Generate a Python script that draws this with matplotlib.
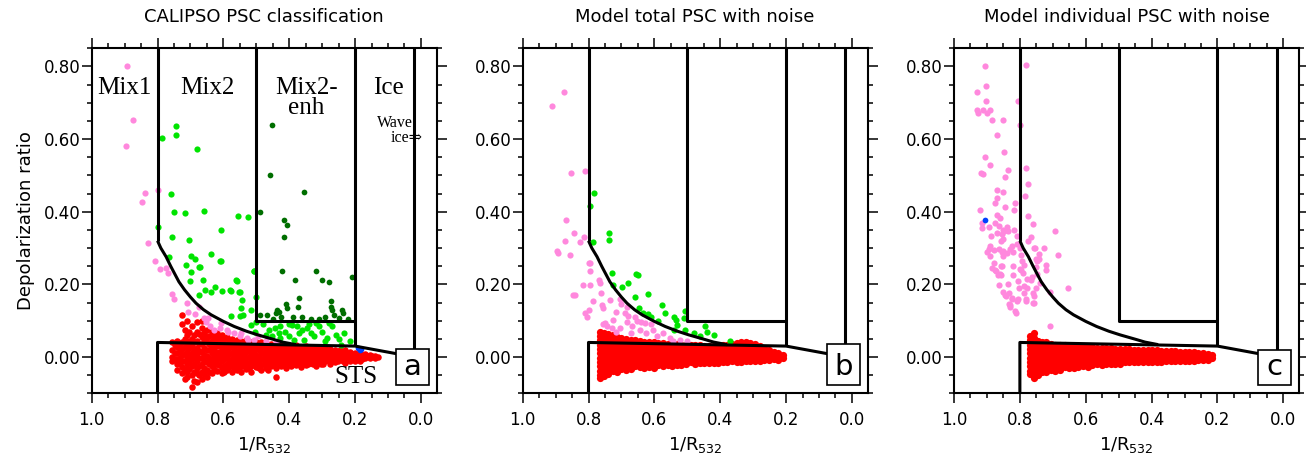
import numpy as np
import matplotlib
matplotlib.use("Agg")
import matplotlib.pyplot as plt
from matplotlib.patches import Rectangle

# ---- data (1/R532, depolarization ratio) ----
titles = ["CALIPSO PSC classification", "Model total PSC with noise",
          "Model individual PSC with noise"]
panel_letters = ["a", "b", "c"]
x_ticks = [1.0, 0.8, 0.6, 0.4, 0.2, 0.0]
y_ticks = [0.0, 0.2, 0.4, 0.6, 0.8]

# classification boundaries
curve_x = [0.80, 0.79, 0.774, 0.76, 0.749, 0.735, 0.718, 0.70, 0.683, 0.66, 0.637, 0.60,
           0.567, 0.53, 0.496, 0.446, 0.42, 0.38]
curve_y = [0.32, 0.30, 0.276, 0.25, 0.231, 0.207, 0.185, 0.165, 0.148, 0.13, 0.116, 0.098,
           0.084, 0.071, 0.061, 0.048, 0.041, 0.034]
sts_x = [0.80, 0.80, 0.20, 0.02]
sts_y = [-0.10, 0.04, 0.03, 0.0]
mix1_x = [0.80, 0.80]
mix1_y = [0.85, 0.32]
enh_x = [0.50, 0.50, 0.20]
enh_y = [0.85, 0.10, 0.10]
ice_x = [0.20, 0.20]
ice_y = [0.85, 0.03]
wave_x = [0.02, 0.02]
wave_y = [0.85, 0.0]

# panel a: CALIPSO
pink_a = [(0.893, 0.80), (0.876, 0.652), (0.896, 0.58), (0.839, 0.451), (0.846, 0.427),
          (0.80, 0.459), (0.830, 0.313), (0.809, 0.264), (0.794, 0.243), (0.774, 0.246),
          (0.767, 0.232), (0.756, 0.174), (0.749, 0.159), (0.710, 0.148), (0.706, 0.123),
          (0.685, 0.119), (0.675, 0.137), (0.660, 0.107), (0.652, 0.095), (0.647, 0.106),
          (0.642, 0.084), (0.630, 0.075), (0.606, 0.093), (0.609, 0.079), (0.589, 0.075),
          (0.586, 0.068), (0.569, 0.066), (0.549, 0.057), (0.545, 0.066), (0.528, 0.052),
          (0.525, 0.047), (0.508, 0.048), (0.495, 0.057), (0.47, 0.045), (0.44, 0.04)]
green_a = [(0.744, 0.635), (0.786, 0.604), (0.743, 0.610), (0.679, 0.574), (0.759, 0.448),
           (0.75, 0.40), (0.717, 0.396), (0.658, 0.401), (0.555, 0.389), (0.525, 0.385),
           (0.80, 0.357), (0.756, 0.331), (0.705, 0.322), (0.606, 0.349), (0.764, 0.276),
           (0.698, 0.279), (0.685, 0.269), (0.713, 0.254), (0.672, 0.249), (0.698, 0.235),
           (0.637, 0.284), (0.609, 0.265), (0.507, 0.238), (0.702, 0.208), (0.662, 0.212),
           (0.675, 0.171), (0.657, 0.185), (0.637, 0.180), (0.625, 0.194), (0.604, 0.183),
           (0.576, 0.183), (0.561, 0.212), (0.553, 0.180), (0.543, 0.157), (0.545, 0.135),
           (0.515, 0.130), (0.501, 0.165), (0.576, 0.112), (0.551, 0.112), (0.54, 0.115),
           (0.517, 0.089), (0.505, 0.070), (0.50, 0.095), (0.607, 0.265), (0.579, 0.185),
           (0.559, 0.210), (0.551, 0.178), (0.508, 0.238), (0.674, 0.249),
           (0.462, 0.075), (0.442, 0.080), (0.427, 0.084), (0.412, 0.070), (0.402, 0.057),
           (0.391, 0.089), (0.376, 0.084), (0.361, 0.075), (0.346, 0.080), (0.335, 0.066),
           (0.325, 0.057), (0.310, 0.084), (0.30, 0.070), (0.285, 0.052), (0.269, 0.084),
           (0.259, 0.061), (0.244, 0.034), (0.214, 0.043), (0.386, 0.048), (0.427, 0.052),
           (0.356, 0.048), (0.452, 0.057), (0.234, 0.066), (0.320, 0.093), (0.280, 0.093),
           (0.48, 0.09), (0.47, 0.06), (0.43, 0.065), (0.37, 0.065), (0.29, 0.045),
           (0.25, 0.05), (0.34, 0.09), (0.40, 0.09)]
dgreen_a = [(0.452, 0.639), (0.457, 0.502), (0.356, 0.455), (0.488, 0.398), (0.415, 0.376),
            (0.408, 0.363), (0.415, 0.330), (0.421, 0.238), (0.320, 0.238), (0.383, 0.212),
            (0.300, 0.212), (0.280, 0.206), (0.209, 0.221), (0.371, 0.162), (0.373, 0.137),
            (0.272, 0.155), (0.272, 0.137), (0.270, 0.128), (0.406, 0.135), (0.410, 0.145),
            (0.437, 0.130), (0.430, 0.124), (0.488, 0.116), (0.467, 0.116), (0.390, 0.110),
            (0.335, 0.104), (0.290, 0.111), (0.264, 0.116), (0.249, 0.107), (0.239, 0.128),
            (0.237, 0.120), (0.425, 0.110), (0.44, 0.12), (0.36, 0.11), (0.31, 0.105),
            (0.22, 0.105), (0.45, 0.105)]
blue_a = [(0.19, 0.024), (0.183, 0.022), (0.186, 0.018)]
red_a_x = [0.755, 0.74, 0.725, 0.71, 0.695, 0.68, 0.665, 0.65, 0.635, 0.62, 0.605, 0.59,
           0.575, 0.56, 0.545, 0.53, 0.515, 0.50, 0.485, 0.47, 0.455, 0.44, 0.425, 0.41,
           0.395, 0.38, 0.365, 0.35, 0.335, 0.32, 0.305, 0.29, 0.275, 0.26, 0.245, 0.23,
           0.215, 0.20, 0.185, 0.17, 0.155, 0.14, 0.13]
red_a_y = [[0.04, 0.02, 0.0, -0.012],
           [0.045, 0.028, 0.01, -0.005, -0.02, -0.035],
           [0.116, 0.09, 0.04, 0.022, 0.005, -0.01, -0.028, -0.045],
           [0.10, 0.06, 0.035, 0.015, -0.002, -0.02, -0.04, -0.055],
           [0.085, 0.05, 0.03, 0.012, -0.006, -0.025, -0.05, -0.082],
           [0.095, 0.07, 0.045, 0.025, 0.008, -0.012, -0.03, -0.045, -0.07],
           [0.10, 0.08, 0.055, 0.035, 0.015, -0.003, -0.02, -0.04, -0.06],
           [0.075, 0.055, 0.04, 0.02, 0.002, -0.015, -0.035, -0.055],
           [0.07, 0.045, 0.028, 0.01, -0.008, -0.025, -0.045],
           [0.065, 0.05, 0.03, 0.012, -0.005, -0.02, -0.038],
           [0.06, 0.04, 0.022, 0.005, -0.012, -0.03, -0.045],
           [0.055, 0.035, 0.018, 0.0, -0.018, -0.035],
           [0.05, 0.03, 0.012, -0.005, -0.022, -0.04],
           [0.048, 0.032, 0.015, -0.002, -0.02, -0.035],
           [0.045, 0.028, 0.01, -0.008, -0.025, -0.04],
           [0.048, 0.03, 0.015, -0.002, -0.018, -0.034],
           [0.042, 0.025, 0.008, -0.01, -0.025, -0.04],
           [0.04, 0.024, 0.006, -0.012, -0.028],
           [0.042, 0.026, 0.01, -0.006, -0.022, -0.035],
           [0.038, 0.02, 0.004, -0.012, -0.03],
           [0.036, 0.022, 0.006, -0.01, -0.025],
           [0.035, 0.018, 0.002, -0.014, -0.03, -0.055],
           [0.034, 0.02, 0.005, -0.01, -0.024],
           [0.032, 0.016, 0.0, -0.015, -0.03],
           [0.03, 0.015, 0.002, -0.012, -0.025],
           [0.032, 0.018, 0.004, -0.01, -0.022],
           [0.028, 0.014, 0.0, -0.014, -0.028],
           [0.03, 0.016, 0.002, -0.01, -0.022],
           [0.026, 0.012, -0.002, -0.016],
           [0.028, 0.015, 0.002, -0.012, -0.024],
           [0.025, 0.01, -0.004, -0.018],
           [0.024, 0.012, 0.0, -0.012],
           [0.022, 0.008, -0.005, -0.018],
           [0.02, 0.008, -0.004, -0.015],
           [0.018, 0.006, -0.006],
           [0.018, 0.005, -0.008, -0.016],
           [0.014, 0.002, -0.01],
           [0.012, 0.0, -0.01],
           [0.01, -0.002, -0.01],
           [0.008, -0.004],
           [0.006, -0.003],
           [0.003, -0.004],
           [0.0]]
red_a2_x = [0.748, 0.733, 0.718, 0.703, 0.688, 0.673, 0.658, 0.643, 0.628, 0.613, 0.598,
            0.583, 0.568, 0.553, 0.538, 0.523, 0.508, 0.493, 0.478, 0.463, 0.448, 0.433,
            0.418, 0.403, 0.388, 0.373, 0.358, 0.343, 0.328, 0.313, 0.298, 0.283, 0.268,
            0.253, 0.238, 0.223, 0.208, 0.193, 0.178, 0.163, 0.148]
red_a2_y = [[0.032, 0.012, -0.006],
            [0.036, 0.016, -0.002, -0.018],
            [0.075, 0.05, 0.028, 0.008, -0.012, -0.032, -0.06],
            [0.07, 0.045, 0.024, 0.004, -0.014, -0.034],
            [0.06, 0.04, 0.02, 0.0, -0.018, -0.04, -0.065],
            [0.062, 0.036, 0.016, -0.004, -0.024, -0.05],
            [0.065, 0.045, 0.026, 0.006, -0.012, -0.03, -0.048],
            [0.058, 0.035, 0.018, -0.002, -0.02, -0.04],
            [0.055, 0.038, 0.02, 0.002, -0.016, -0.034],
            [0.052, 0.032, 0.014, -0.004, -0.022],
            [0.05, 0.03, 0.012, -0.006, -0.024, -0.04],
            [0.045, 0.026, 0.008, -0.01, -0.028],
            [0.04, 0.022, 0.005, -0.012, -0.03],
            [0.038, 0.02, 0.002, -0.015, -0.032],
            [0.04, 0.022, 0.004, -0.012, -0.026],
            [0.036, 0.018, 0.0, -0.016, -0.03],
            [0.034, 0.016, -0.002, -0.02],
            [0.035, 0.018, 0.0, -0.016, -0.03],
            [0.03, 0.012, -0.004, -0.02],
            [0.03, 0.014, -0.002, -0.018, -0.035],
            [0.028, 0.01, -0.006, -0.022],
            [0.026, 0.012, -0.004, -0.018],
            [0.025, 0.008, -0.008, -0.022],
            [0.024, 0.008, -0.006, -0.02],
            [0.024, 0.01, -0.004, -0.018],
            [0.022, 0.008, -0.006, -0.02],
            [0.022, 0.008, -0.006, -0.016],
            [0.02, 0.006, -0.008, -0.02],
            [0.02, 0.008, -0.006, -0.018],
            [0.018, 0.004, -0.01],
            [0.018, 0.005, -0.008, -0.02],
            [0.016, 0.004, -0.008],
            [0.015, 0.002, -0.01],
            [0.014, 0.0, -0.01],
            [0.012, 0.0, -0.012],
            [0.01, -0.002],
            [0.008, -0.004],
            [0.006, -0.005],
            [0.004, -0.006],
            [0.004],
            [0.002]]

# panel b: model total
pink_b = [(0.911, 0.691), (0.874, 0.730), (0.854, 0.506), (0.812, 0.512), (0.869, 0.377),
          (0.844, 0.342), (0.870, 0.320), (0.827, 0.316), (0.813, 0.330), (0.897, 0.292),
          (0.894, 0.286), (0.857, 0.281), (0.800, 0.260), (0.796, 0.260), (0.794, 0.236),
          (0.768, 0.212), (0.765, 0.204), (0.794, 0.199), (0.818, 0.197), (0.846, 0.171),
          (0.841, 0.170), (0.762, 0.176), (0.786, 0.153), (0.760, 0.144), (0.757, 0.135),
          (0.736, 0.157), (0.704, 0.160), (0.70, 0.145), (0.810, 0.121), (0.806, 0.110),
          (0.800, 0.130), (0.750, 0.093), (0.725, 0.102), (0.744, 0.085), (0.755, 0.090),
          (0.715, 0.070), (0.705, 0.080), (0.684, 0.139), (0.715, 0.125), (0.680, 0.112),
          (0.684, 0.095), (0.669, 0.084), (0.654, 0.098), (0.644, 0.075), (0.629, 0.093),
          (0.624, 0.066), (0.604, 0.075), (0.593, 0.057), (0.573, 0.066), (0.553, 0.052),
          (0.543, 0.043), (0.523, 0.048), (0.502, 0.043), (0.66, 0.11), (0.64, 0.095),
          (0.69, 0.12), (0.73, 0.08), (0.67, 0.065), (0.61, 0.09)]
green_b = [(0.784, 0.451), (0.794, 0.416), (0.786, 0.316), (0.738, 0.342), (0.739, 0.322),
           (0.728, 0.231), (0.725, 0.199), (0.698, 0.192), (0.681, 0.203), (0.655, 0.229),
           (0.650, 0.226), (0.658, 0.166), (0.618, 0.174), (0.647, 0.135), (0.636, 0.120),
           (0.620, 0.118), (0.578, 0.143), (0.567, 0.121), (0.540, 0.110), (0.535, 0.102),
           (0.532, 0.089), (0.508, 0.127), (0.510, 0.108), (0.507, 0.075), (0.540, 0.075),
           (0.446, 0.084), (0.440, 0.070), (0.420, 0.061), (0.460, 0.057), (0.370, 0.043),
           (0.610, 0.110), (0.59, 0.10), (0.48, 0.065)]
red_b_x = [0.765, 0.752, 0.74, 0.727, 0.714, 0.70, 0.686, 0.672, 0.658, 0.644, 0.63, 0.616,
           0.602, 0.588, 0.574, 0.56, 0.546, 0.532, 0.518, 0.504, 0.49, 0.476, 0.462, 0.448,
           0.434, 0.42, 0.406, 0.392, 0.378, 0.364, 0.35, 0.336, 0.322, 0.308, 0.294, 0.28,
           0.266, 0.252, 0.238, 0.224, 0.21]
red_b_y = [[0.07, 0.058, 0.046, 0.034, 0.022, 0.01, -0.002, -0.014, -0.026, -0.038, -0.05, -0.058],
           [0.066, 0.052, 0.04, 0.028, 0.016, 0.004, -0.008, -0.02, -0.032, -0.044, -0.052],
           [0.062, 0.05, 0.037, 0.025, 0.013, 0.001, -0.011, -0.023, -0.035, -0.046],
           [0.06, 0.046, 0.034, 0.022, 0.01, -0.002, -0.014, -0.026, -0.038],
           [0.056, 0.044, 0.032, 0.02, 0.008, -0.004, -0.016, -0.028, -0.04],
           [0.052, 0.04, 0.028, 0.016, 0.004, -0.008, -0.02, -0.032],
           [0.05, 0.038, 0.026, 0.014, 0.002, -0.01, -0.022, -0.036],
           [0.048, 0.036, 0.024, 0.012, 0.0, -0.012, -0.024, -0.034],
           [0.046, 0.034, 0.022, 0.01, -0.002, -0.014, -0.026],
           [0.045, 0.033, 0.021, 0.009, -0.003, -0.015, -0.028],
           [0.042, 0.03, 0.018, 0.006, -0.006, -0.018, -0.03],
           [0.04, 0.028, 0.016, 0.004, -0.008, -0.02, -0.028],
           [0.04, 0.028, 0.016, 0.004, -0.008, -0.02, -0.03],
           [0.038, 0.026, 0.014, 0.002, -0.01, -0.022],
           [0.038, 0.026, 0.014, 0.002, -0.01, -0.024],
           [0.037, 0.025, 0.013, 0.001, -0.011, -0.023],
           [0.036, 0.024, 0.012, 0.0, -0.012, -0.024],
           [0.035, 0.023, 0.011, -0.001, -0.013, -0.022],
           [0.034, 0.022, 0.01, -0.002, -0.014, -0.022],
           [0.034, 0.022, 0.01, -0.002, -0.014, -0.02],
           [0.033, 0.021, 0.009, -0.003, -0.015],
           [0.032, 0.02, 0.008, -0.004, -0.016, -0.02],
           [0.032, 0.02, 0.008, -0.004, -0.016],
           [0.031, 0.019, 0.007, -0.005, -0.017],
           [0.03, 0.018, 0.006, -0.006, -0.017],
           [0.03, 0.018, 0.006, -0.006, -0.016],
           [0.03, 0.018, 0.006, -0.006, -0.016],
           [0.032, 0.02, 0.008, -0.004, -0.015],
           [0.034, 0.022, 0.01, -0.002, -0.014],
           [0.036, 0.024, 0.012, 0.0, -0.012],
           [0.038, 0.026, 0.014, 0.002, -0.01, -0.014],
           [0.04, 0.028, 0.016, 0.004, -0.008, -0.013],
           [0.04, 0.028, 0.016, 0.004, -0.008, -0.012],
           [0.038, 0.026, 0.014, 0.002, -0.01],
           [0.035, 0.024, 0.012, 0.0, -0.011],
           [0.03, 0.019, 0.008, -0.003, -0.011],
           [0.024, 0.013, 0.002, -0.009],
           [0.02, 0.01, 0.0, -0.009],
           [0.015, 0.005, -0.005],
           [0.01, 0.0, -0.008],
           [0.005, -0.004]]

# panel c: model individual
pink_c = [(0.906, 0.80), (0.781, 0.805), (0.929, 0.73), (0.903, 0.746), (0.903, 0.705),
          (0.805, 0.705), (0.931, 0.679), (0.928, 0.672), (0.911, 0.679), (0.891, 0.679),
          (0.901, 0.672), (0.885, 0.652), (0.852, 0.652), (0.801, 0.638), (0.869, 0.61),
          (0.906, 0.551), (0.847, 0.564), (0.918, 0.507), (0.911, 0.503), (0.891, 0.53),
          (0.835, 0.515), (0.846, 0.495), (0.782, 0.52), (0.776, 0.475), (0.785, 0.444),
          (0.871, 0.46), (0.852, 0.455), (0.871, 0.438), (0.875, 0.423), (0.815, 0.424),
          (0.846, 0.413), (0.921, 0.405), (0.819, 0.405), (0.774, 0.388), (0.871, 0.39),
          (0.915, 0.368), (0.915, 0.354), (0.895, 0.357), (0.86, 0.382), (0.875, 0.368),
          (0.869, 0.342), (0.847, 0.348), (0.858, 0.319), (0.852, 0.325), (0.888, 0.334),
          (0.89, 0.306), (0.895, 0.296), (0.90, 0.29), (0.89, 0.278), (0.85, 0.292),
          (0.85, 0.278), (0.83, 0.297), (0.822, 0.29), (0.81, 0.334), (0.80, 0.30),
          (0.776, 0.318), (0.76, 0.365), (0.767, 0.33), (0.755, 0.30), (0.726, 0.301),
          (0.752, 0.27), (0.743, 0.27), (0.795, 0.265), (0.692, 0.346), (0.685, 0.281),
          (0.797, 0.24), (0.79, 0.231), (0.82, 0.25), (0.855, 0.25), (0.858, 0.225),
          (0.875, 0.24), (0.867, 0.226), (0.88, 0.26), (0.721, 0.24), (0.75, 0.247),
          (0.765, 0.212), (0.75, 0.19), (0.778, 0.19), (0.804, 0.19), (0.862, 0.198),
          (0.835, 0.2), (0.85, 0.18), (0.846, 0.171), (0.823, 0.162), (0.786, 0.176),
          (0.76, 0.177), (0.757, 0.168), (0.709, 0.18), (0.654, 0.19), (0.805, 0.16),
          (0.781, 0.16), (0.758, 0.149), (0.833, 0.145), (0.829, 0.139), (0.815, 0.126),
          (0.812, 0.121), (0.71, 0.086), (0.862, 0.362), (0.851, 0.349), (0.838, 0.357),
          (0.853, 0.338), (0.836, 0.346), (0.818, 0.349), (0.879, 0.295), (0.863, 0.296),
          (0.853, 0.288), (0.838, 0.285), (0.823, 0.306), (0.808, 0.311), (0.798, 0.28),
          (0.788, 0.252), (0.80, 0.242), (0.757, 0.3), (0.742, 0.284), (0.747, 0.265),
          (0.722, 0.254), (0.886, 0.245), (0.874, 0.237), (0.861, 0.228), (0.858, 0.25),
          (0.82, 0.225), (0.833, 0.175), (0.843, 0.168), (0.805, 0.208), (0.788, 0.195),
          (0.778, 0.214), (0.762, 0.22), (0.747, 0.228), (0.739, 0.205), (0.823, 0.16),
          (0.808, 0.154), (0.782, 0.154), (0.759, 0.148), (0.83, 0.144)]
blue_c = [(0.906, 0.377)]
red_c_x = [0.768, 0.758, 0.746, 0.733, 0.72, 0.706, 0.692, 0.678, 0.664, 0.65, 0.636, 0.622,
           0.608, 0.594, 0.58, 0.566, 0.552, 0.538, 0.524, 0.51, 0.496, 0.482, 0.468, 0.454,
           0.44, 0.426, 0.412, 0.398, 0.384, 0.37, 0.356, 0.342, 0.328, 0.314, 0.3, 0.286,
           0.272, 0.258, 0.244, 0.23, 0.216]
red_c_y = [[0.058, 0.046, 0.034, 0.022, 0.01, -0.002, -0.014, -0.026, -0.038, -0.048],
           [0.066, 0.052, 0.04, 0.028, 0.016, 0.004, -0.008, -0.02, -0.032, -0.044, -0.058],
           [0.044, 0.032, 0.02, 0.008, -0.004, -0.016, -0.028, -0.04, -0.05],
           [0.042, 0.03, 0.018, 0.006, -0.006, -0.018, -0.03, -0.042],
           [0.04, 0.028, 0.016, 0.004, -0.008, -0.02, -0.032, -0.04],
           [0.036, 0.024, 0.012, 0.0, -0.012, -0.024, -0.036],
           [0.034, 0.022, 0.01, -0.002, -0.014, -0.026, -0.038],
           [0.033, 0.021, 0.009, -0.003, -0.015, -0.027, -0.036],
           [0.032, 0.02, 0.008, -0.004, -0.016, -0.028],
           [0.03, 0.018, 0.006, -0.006, -0.018, -0.03],
           [0.03, 0.018, 0.006, -0.006, -0.018, -0.03],
           [0.029, 0.017, 0.005, -0.007, -0.019, -0.028],
           [0.028, 0.016, 0.004, -0.008, -0.02, -0.026],
           [0.028, 0.016, 0.004, -0.008, -0.02, -0.027],
           [0.027, 0.015, 0.003, -0.009, -0.021],
           [0.026, 0.014, 0.002, -0.01, -0.02],
           [0.025, 0.013, 0.001, -0.011, -0.021],
           [0.025, 0.013, 0.001, -0.011, -0.02],
           [0.024, 0.012, 0.0, -0.012, -0.019],
           [0.023, 0.011, -0.001, -0.013, -0.018],
           [0.022, 0.01, -0.002, -0.014, -0.018],
           [0.021, 0.01, -0.002, -0.013],
           [0.021, 0.01, -0.002, -0.014],
           [0.02, 0.009, -0.003, -0.013],
           [0.02, 0.008, -0.004, -0.014],
           [0.019, 0.008, -0.003, -0.014],
           [0.019, 0.007, -0.004, -0.014],
           [0.018, 0.007, -0.004, -0.015],
           [0.018, 0.006, -0.005, -0.013],
           [0.017, 0.006, -0.005, -0.013],
           [0.017, 0.006, -0.005, -0.012],
           [0.016, 0.005, -0.006, -0.012],
           [0.016, 0.005, -0.006, -0.012],
           [0.015, 0.004, -0.006, -0.012],
           [0.015, 0.004, -0.006, -0.011],
           [0.014, 0.003, -0.007, -0.011],
           [0.013, 0.003, -0.007, -0.01],
           [0.012, 0.002, -0.008],
           [0.011, 0.001, -0.008],
           [0.009, 0.0, -0.007],
           [0.006, -0.004]]

PINK = "#ff88dd"
GREEN = "#00e400"
DGREEN = "#006e00"
RED = "#ff0000"
BLUE = "#0040ff"
SANS = "DejaVu Sans"
SERIF = ["Liberation Serif", "DejaVu Serif"]


def columns(xs, ys):
    px, py = [], []
    for x, col in zip(xs, ys):
        for y in col:
            px.append(x)
            py.append(y)
    return px, py


def dots(ax, pts, color, s=20):
    if not pts:
        return
    arr = np.array(pts)
    ax.scatter(arr[:, 0], arr[:, 1], s=s, c=color, linewidths=0, zorder=2)


def boundaries(ax):
    kw = dict(color="black", lw=2.2, zorder=4, solid_capstyle="butt")
    ax.plot(curve_x, curve_y, **kw)
    ax.plot(sts_x, sts_y, **kw)
    ax.plot(mix1_x, mix1_y, **kw)
    ax.plot(enh_x, enh_y, **kw)
    ax.plot(ice_x, ice_y, **kw)
    ax.plot(wave_x, wave_y, **kw)


def style(ax, title, letter, box_top, show_ylabel):
    ax.set_xlim(1.0, -0.048)
    ax.set_ylim(-0.1, 0.85)
    ax.set_xticks(x_ticks)
    ax.set_xticklabels(["{:.1f}".format(v) for v in x_ticks], fontsize=12, family=SANS)
    ax.set_yticks(y_ticks)
    ax.set_yticklabels(["{:.2f}".format(v) for v in y_ticks], fontsize=12, family=SANS)
    ax.set_xticks(np.arange(1.0, -0.05, -0.05), minor=True)
    ax.set_yticks(np.arange(-0.1, 0.851, 0.05), minor=True)
    ax.tick_params(which="both", direction="out", top=True, right=True, width=1.1)
    ax.tick_params(which="major", length=7)
    ax.tick_params(which="minor", length=3.6)
    ax.tick_params(axis="y", pad=1)
    ax.tick_params(axis="x", pad=6)
    for sp in ax.spines.values():
        sp.set_linewidth(1.5)
    ax.set_xlabel("1/R$_{\\mathregular{532}}$", fontsize=13, family=SANS, labelpad=4)
    if show_ylabel:
        ax.set_ylabel("Depolarization ratio", fontsize=13, family=SANS, labelpad=6)
    ax.text(0.5, 1.09, title, transform=ax.transAxes, ha="center", va="center",
            fontsize=13, family=SANS)
    ax.add_patch(Rectangle((0.882, 0.024), 0.095, box_top - 0.024, transform=ax.transAxes,
                           facecolor="white", edgecolor="black", lw=1.2, zorder=6))
    ax.text(0.929, 0.052, letter, transform=ax.transAxes, ha="center", va="baseline",
            fontsize=21, family=SANS, zorder=7)


fig = plt.figure(figsize=(13.06, 4.57), dpi=100)
lefts = [0.0702, 0.4002, 0.7305]
axes = [fig.add_axes([l, 0.1394, 0.2642, 0.7549]) for l in lefts]

# panel a
ax = axes[0]
rx, ry = columns(red_a_x + red_a2_x, red_a_y + red_a2_y)
ax.scatter(rx, ry, s=22, c=RED, linewidths=0, zorder=2)
dots(ax, pink_a, PINK)
dots(ax, green_a, GREEN)
dots(ax, dgreen_a, DGREEN, s=17)
dots(ax, blue_a, BLUE, s=17)
boundaries(ax)
for label, x in [("Mix1", 0.90), ("Mix2", 0.648), ("Mix2-", 0.348), ("Ice", 0.10)]:
    ax.text(x, 0.725, label, ha="center", va="baseline", fontsize=18, family=SERIF, zorder=5)
ax.text(0.348, 0.67, "enh", ha="center", va="baseline", fontsize=18, family=SERIF, zorder=5)
ax.text(0.026, 0.633, "Wave", ha="right", va="baseline", fontsize=11.5, family=SERIF, zorder=5)
ax.text(-0.005, 0.592, "ice\u21d2", ha="right", va="baseline", fontsize=11.5, family=SERIF,
        zorder=5)
ax.text(0.198, -0.073, "STS", ha="center", va="baseline", fontsize=18, family=SERIF, zorder=5)
style(ax, titles[0], panel_letters[0], 0.128, True)

# panel b
ax = axes[1]
rx, ry = columns(red_b_x, red_b_y)
ax.scatter(rx, ry, s=27, c=RED, linewidths=0, zorder=2)
dots(ax, pink_b, PINK)
dots(ax, green_b, GREEN)
boundaries(ax)
style(ax, titles[1], panel_letters[1], 0.142, False)

# panel c
ax = axes[2]
rx, ry = columns(red_c_x, red_c_y)
ax.scatter(rx, ry, s=27, c=RED, linewidths=0, zorder=2)
dots(ax, pink_c, PINK)
dots(ax, blue_c, BLUE, s=17)
boundaries(ax)
style(ax, titles[2], panel_letters[2], 0.125, False)

fig.savefig("out.png", dpi=100)
